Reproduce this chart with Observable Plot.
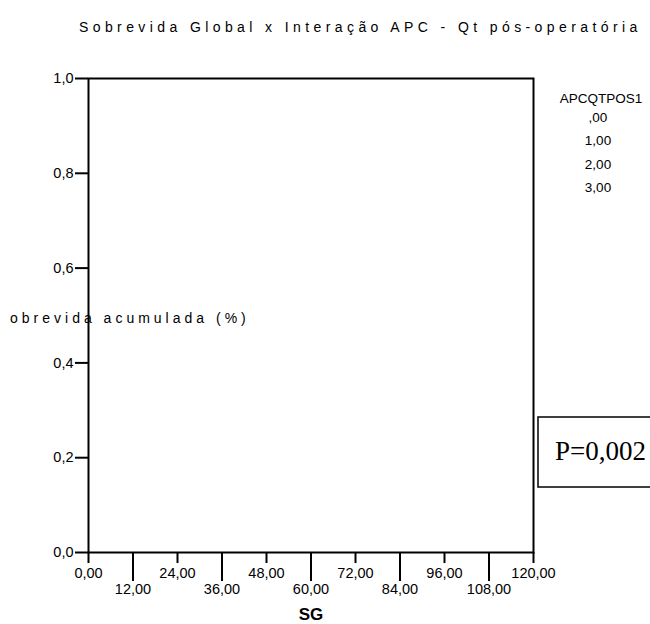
<!DOCTYPE html>
<html>
<head>
<meta charset="utf-8">
<script src="https://cdn.jsdelivr.net/npm/d3@7"></script>
<script src="https://cdn.jsdelivr.net/npm/@observablehq/plot@0.6"></script>
<style>
  html, body { margin: 0; padding: 0; background: #fff; }
  #chart { width: 650px; height: 624px; overflow: hidden; }
  svg { font-family: "Liberation Sans", Arial, sans-serif; color: #000; }
</style>
</head>
<body>
<div id="chart"></div>
<script>
// ---- data ----
const titleText = "Sobrevida Global x Interação APC - Qt pós-operatória";
const yLabelText = "Sobrevida acumulada (%)";
const xLabelText = "SG";
const xTicksUpper = [0, 24, 48, 72, 96, 120];
const xTicksLower = [12, 36, 60, 84, 108];
const yTicks = [0, 0.2, 0.4, 0.6, 0.8, 1.0];
const legendTitle = "APCQTPOS1";
const legendCategories = [",00", "1,00", "2,00", "3,00"];
const pValueText = "P=0,002";

const fmtX = d => d.toFixed(2).replace(".", ",");
const fmtY = d => d.toFixed(1).replace(".", ",");

const W = 650, H = 624;

const chart = Plot.plot({
  width: W,
  height: H,
  marginTop: 78,
  marginBottom: 72,
  marginLeft: 88,
  marginRight: 117,
  style: { fontFamily: "Liberation Sans, Arial, sans-serif", color: "#000", background: "#fff", overflow: "visible" },
  x: { domain: [0, 120] },
  y: { domain: [0, 1] },
  marks: [
    Plot.frame({ stroke: "#000", strokeWidth: 2 }),
    Plot.axisY({ ticks: yTicks, tickFormat: fmtY, tickSize: 13, tickPadding: 2, strokeWidth: 2, fontSize: 14.5, label: null }),
    Plot.axisX({ ticks: xTicksUpper, tickFormat: fmtX, tickSize: 11, tickPadding: 4, strokeWidth: 2, fontSize: 14.5, label: null }),
    Plot.axisX({ ticks: xTicksLower, tickFormat: fmtX, tickSize: 29, tickPadding: 2, strokeWidth: 2, fontSize: 14.5, label: null })
  ]
});

document.getElementById("chart").appendChild(chart);

const svg = d3.select(chart);

// Title
svg.append("text")
  .attr("x", 79).attr("y", 27).attr("dy", "0.35em")
  .attr("text-anchor", "start")
  .attr("font-size", 14)
  .attr("letter-spacing", 4.4)
  .attr("fill", "#000")
  .text(titleText);

// Y label (clipped on the left like the reference)
svg.append("defs").append("clipPath").attr("id", "ylabclip")
  .append("rect").attr("x", 9).attr("y", 290).attr("width", 300).attr("height", 60);
const ylab = svg.append("text")
  .attr("clip-path", "url(#ylabclip)")
  .attr("text-anchor", "start")
  .attr("x", 0).attr("y", 318).attr("dy", "0.35em")
  .attr("font-size", 14)
  .attr("letter-spacing", 4)
  .attr("fill", "#000")
  .text(yLabelText);
try {
  const p1 = ylab.node().getStartPositionOfChar(1).x;
  ylab.attr("x", 10 - p1);
} catch (e) {}

// X label
svg.append("text")
  .attr("x", 311).attr("y", 614).attr("dy", "0.35em")
  .attr("text-anchor", "middle")
  .attr("font-size", 17).attr("font-weight", "bold")
  .attr("fill", "#000")
  .text(xLabelText);

// Legend (no symbols, as in the reference)
svg.append("text")
  .attr("x", 601).attr("y", 98).attr("dy", "0.35em")
  .attr("text-anchor", "middle").attr("font-size", 13.5).attr("fill", "#000")
  .text(legendTitle);
legendCategories.forEach((c, i) => {
  svg.append("text")
    .attr("x", 598).attr("y", 117.5 + i * 23.2).attr("dy", "0.35em")
    .attr("text-anchor", "middle").attr("font-size", 13.5).attr("fill", "#000")
    .text(c);
});

// P-value box
svg.append("rect")
  .attr("x", 538).attr("y", 417).attr("width", 130).attr("height", 70)
  .attr("fill", "none").attr("stroke", "#000").attr("stroke-width", 1.5);
svg.append("text")
  .attr("x", 555).attr("y", 451).attr("dy", "0.35em")
  .attr("text-anchor", "start")
  .attr("font-family", "Liberation Serif, Times New Roman, serif")
  .attr("font-size", 27).attr("fill", "#000")
  .text(pValueText);
</script>
</body>
</html>
